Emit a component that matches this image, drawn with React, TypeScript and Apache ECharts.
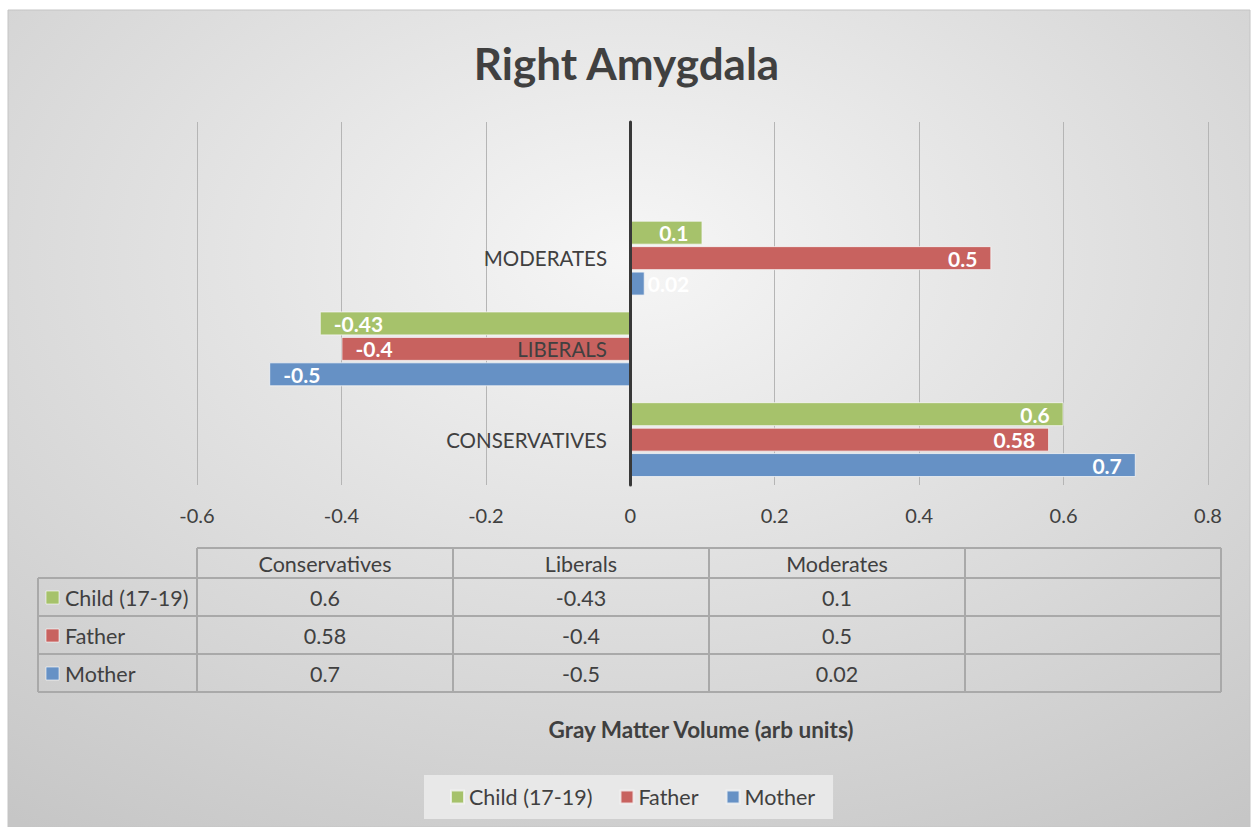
import React, { useEffect, useRef } from "react";
import * as echarts from "echarts";

const categories = ["Conservatives", "Liberals", "Moderates", ""];
const seriesNames = ["Child (17-19)", "Father", "Mother"];
const childValues = [0.6, -0.43, 0.1];
const fatherValues = [0.58, -0.4, 0.5];
const motherValues = [0.7, -0.5, 0.02];
const seriesColors = ["#a6c26b", "#c8625f", "#6691c5"];
const xTicks = { min: -0.6, max: 0.8, interval: 0.2 };
const chartTitle = "Right Amygdala";
const axisTitle = "Gray Matter Volume (arb units)";

const FONT = "Lato, 'Open Sans', sans-serif";
const TXT = "#404040";

export default function App() {
  const ref = useRef<HTMLDivElement>(null);
  useEffect(() => {
    document.body.style.margin = "0";
    const chart = echarts.init(ref.current!, null, { renderer: "svg" });
    const allValues = [childValues, fatherValues, motherValues];

    const mkData = (vals: number[]) =>
      vals.map((v) => ({
        value: v,
        label: {
          position: v < 0 ? "insideLeft" : v < 0.05 ? "right" : "insideRight",
          distance: v < 0.05 && v >= 0 ? 3 : 14,
        },
      }));

    const series = seriesNames.map((name, i) => ({
      name,
      type: "bar",
      data: mkData(allValues[i]),
      barWidth: 24,
      barGap: "6%",
      itemStyle: {
        color: seriesColors[i],
        borderColor: "rgba(245,245,245,0.8)",
        borderWidth: 1,
      },
      label: {
        show: true,
        color: "#ffffff",
        fontFamily: FONT,
        fontWeight: "bold",
        fontSize: 21,
        formatter: (p: any) => String(p.value),
      },
    }));

    // Table geometry
    const colX = [38, 197, 453, 709, 965, 1221];
    const rowY = [548, 578, 616, 654, 692];
    const lineColor = "#a9a9a9";
    const tableFont = `21.5px ${FONT}`;
    const g: any[] = [];
    g.push({
      type: "rect",
      z: -10,
      silent: true,
      shape: { x: 8, y: 10, width: 1242, height: 817 },
      style: {
        fill: new echarts.graphic.RadialGradient(0.5, 0.3, 0.85, [
          { offset: 0, color: "#f6f6f6" },
          { offset: 1, color: "#c6c6c6" },
        ]),
        stroke: "#c4c4c4",
        lineWidth: 1,
      },
    });
    g.push({ type: "line", shape: { x1: colX[1], y1: rowY[0], x2: colX[5], y2: rowY[0] }, style: { stroke: lineColor, lineWidth: 2 } });
    for (let r = 1; r < rowY.length; r++) {
      g.push({ type: "line", shape: { x1: colX[0], y1: rowY[r], x2: colX[5], y2: rowY[r] }, style: { stroke: lineColor, lineWidth: 2 } });
    }
    g.push({ type: "line", shape: { x1: colX[0], y1: rowY[1], x2: colX[0], y2: rowY[4] }, style: { stroke: lineColor, lineWidth: 2 } });
    for (let c = 1; c < colX.length; c++) {
      g.push({ type: "line", shape: { x1: colX[c], y1: rowY[0], x2: colX[c], y2: rowY[4] }, style: { stroke: lineColor, lineWidth: 2 } });
    }
    categories.forEach((cat, ci) => {
      if (!cat) return;
      g.push({
        type: "text",
        x: (colX[ci + 1] + colX[ci + 2]) / 2,
        y: (rowY[0] + rowY[1]) / 2 + 1,
        style: { text: cat, fill: TXT, font: tableFont, align: "center", verticalAlign: "middle" },
      });
    });
    seriesNames.forEach((name, si) => {
      const cy = (rowY[si + 1] + rowY[si + 2]) / 2 + 1;
      g.push({
        type: "rect",
        shape: { x: 46, y: cy - 7, width: 13, height: 13 },
        style: { fill: seriesColors[si], stroke: "rgba(255,255,255,0.6)", lineWidth: 1 },
      });
      g.push({
        type: "text",
        x: 65,
        y: cy,
        style: { text: name, fill: TXT, font: tableFont, align: "left", verticalAlign: "middle" },
      });
      allValues[si].forEach((v, ci) => {
        g.push({
          type: "text",
          x: (colX[ci + 1] + colX[ci + 2]) / 2,
          y: cy,
          style: { text: String(v), fill: TXT, font: tableFont, align: "center", verticalAlign: "middle" },
        });
      });
    });
    g.push({
      type: "text",
      x: 701,
      y: 729,
      style: { text: axisTitle, fill: TXT, font: `bold 22.5px ${FONT}`, align: "center", verticalAlign: "middle" },
    });

    chart.setOption({
      animation: false,
      title: {
        text: chartTitle,
        left: "center",
        top: 36,
        textStyle: { fontFamily: FONT, fontWeight: "bold", fontSize: 44, color: TXT },
      },
      legend: {
        data: seriesNames,
        left: 424,
        top: 775,
        padding: [11, 18, 11, 26],
        backgroundColor: "#e8e8e8",
        icon: "rect",
        itemWidth: 13,
        itemHeight: 13,
        itemGap: 27,
        textStyle: { fontFamily: FONT, fontSize: 21.5, color: TXT },
      },
      grid: { left: 197, right: 45, top: 122, bottom: 342, containLabel: false },
      xAxis: {
        type: "value",
        min: xTicks.min,
        max: xTicks.max,
        interval: xTicks.interval,
        axisLine: { show: false },
        axisTick: { show: false },
        axisLabel: {
          color: TXT,
          fontFamily: FONT,
          fontSize: 20,
          margin: 20,
          formatter: (v: number) => String(Math.round(v * 10) / 10),
        },
        splitLine: { show: true, lineStyle: { color: "#b5b5b5", width: 1 } },
      },
      yAxis: {
        type: "category",
        data: categories,
        z: 5,
        axisLine: { show: true, onZero: true, lineStyle: { color: "#383838", width: 3 } },
        axisTick: { show: false },
        splitLine: { show: false },
        axisLabel: {
          color: TXT,
          fontFamily: FONT,
          fontSize: 20.5,
          margin: -410,
          hideOverlap: false,
          formatter: (v: string) => v.toUpperCase(),
        },
      },
      graphic: g,
      series,
    });
    return () => chart.dispose();
  }, []);
  return <div ref={ref} style={{ width: 1253, height: 827 }} />;
}
